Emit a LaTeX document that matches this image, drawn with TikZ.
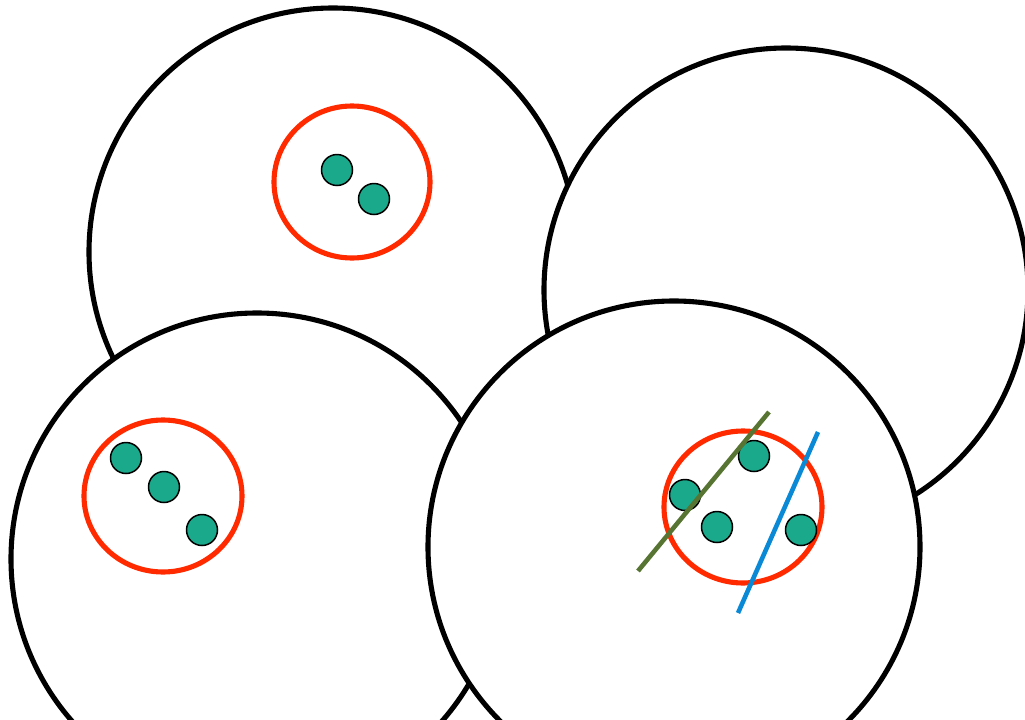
\documentclass[tikz,border=0pt]{standalone}
\usepackage{tikz}
\definecolor{ringred}{HTML}{FF2A00}
\definecolor{dotgreen}{HTML}{1BA98B}
\definecolor{cutolive}{HTML}{577432}
\definecolor{cutblue}{HTML}{0A8AD6}
\begin{document}
\begin{tikzpicture}[x=0.02cm,y=-0.02cm,
    bigball/.style={draw=black,fill=white,line width=2.9pt},
    ring/.style={draw=ringred,line width=2.9pt},
    pt/.style={draw=black,fill=dotgreen,line width=0.85pt},
    cut/.style={line width=2.6pt}]
    \useasboundingbox (0,0) rectangle (1025,720);
    \clip (0,0) rectangle (1025,720);
    %--- large circles (back to front) ---
    \draw[bigball] (333,252) circle[radius=244];
    \draw[bigball] (786,290) circle[radius=242];
    \draw[bigball] (257,559) circle[radius=246];
    \draw[bigball] (674,547) circle[radius=246];
    %--- upper left group ---
    \draw[ring] (352,182) ellipse[x radius=78,y radius=76];
    \foreach \p in {(337,170),(374,199)}
      \draw[pt] \p circle[radius=15.5];
    %--- lower left group ---
    \draw[ring] (163,496) ellipse[x radius=79,y radius=76];
    \foreach \p in {(126,458),(164,487),(202,530)}
      \draw[pt] \p circle[radius=15.5];
    %--- lower right group with two cuts ---
    \draw[ring] (743,507) ellipse[x radius=79,y radius=76];
    \foreach \p in {(754,456),(685,495),(717,527),(801,530)}
      \draw[pt] \p circle[radius=15.5];
    \draw[cut,cutolive] (638,571) -- (769,412);
    \draw[cut,cutblue] (738,613) -- (818,432);
  \end{tikzpicture}
\end{document}
